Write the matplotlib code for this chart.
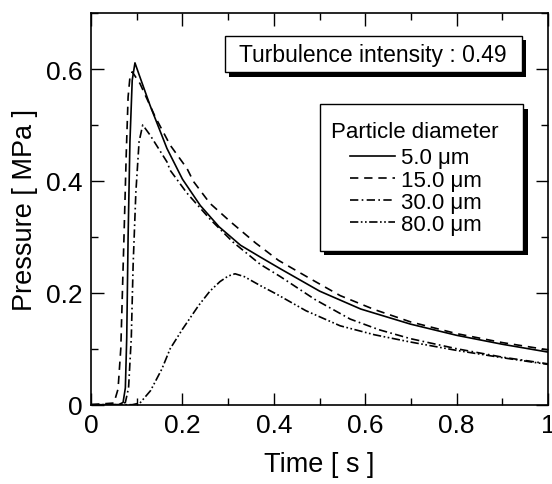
import matplotlib.pyplot as plt
from matplotlib.patches import Rectangle
from matplotlib.ticker import MultipleLocator

plt.rcParams['font.family'] = ['Liberation Sans', 'DejaVu Sans']

# 5.0 um
t_5 = [0, 0.06, 0.07, 0.075, 0.078, 0.081, 0.085, 0.09, 0.096, 0.105, 0.129, 0.166, 0.2,
       0.239, 0.28, 0.327, 0.37, 0.414, 0.5, 0.59, 0.699, 0.8, 0.9, 1.0]
p_5 = [0, 0, 0.004, 0.03, 0.12, 0.3, 0.47, 0.58, 0.611, 0.59, 0.535, 0.458, 0.403,
       0.356, 0.318, 0.285, 0.264, 0.243, 0.203, 0.171, 0.144, 0.124, 0.108, 0.094]

# 15.0 um
t_15 = [0, 0.05, 0.059, 0.065, 0.072, 0.077, 0.081, 0.085, 0.09, 0.107, 0.14, 0.173, 0.21,
        0.224, 0.26, 0.305, 0.36, 0.41, 0.48, 0.545, 0.62, 0.699, 0.8, 0.9, 1.0]
p_15 = [0, 0.003, 0.028, 0.1, 0.3, 0.45, 0.55, 0.585, 0.595, 0.574, 0.515, 0.464, 0.422,
        0.399, 0.36, 0.327, 0.289, 0.258, 0.225, 0.195, 0.17, 0.148, 0.127, 0.111, 0.098]

# 30.0 um
t_30 = [0, 0.065, 0.075, 0.082, 0.088, 0.092, 0.098, 0.105, 0.113, 0.129, 0.166, 0.173,
        0.21, 0.261, 0.31, 0.37, 0.414, 0.49, 0.567, 0.63, 0.699, 0.8, 0.9, 1.0]
p_30 = [0, 0, 0.004, 0.03, 0.12, 0.25, 0.38, 0.47, 0.50, 0.482, 0.434, 0.419,
        0.378, 0.331, 0.291, 0.251, 0.229, 0.188, 0.153, 0.134, 0.118, 0.1, 0.085, 0.073]

# 80.0 um
t_80 = [0, 0.09, 0.107, 0.13, 0.155, 0.173, 0.2, 0.235, 0.26, 0.282, 0.3, 0.315, 0.335,
        0.37, 0.405, 0.47, 0.545, 0.62, 0.699, 0.8, 0.9, 1.0]
p_80 = [0, 0, 0.003, 0.025, 0.064, 0.1, 0.135, 0.177, 0.203, 0.22, 0.23, 0.234, 0.229,
        0.213, 0.198, 0.168, 0.141, 0.125, 0.112, 0.097, 0.084, 0.072]

labels = ['5.0 μm', '15.0 μm', '30.0 μm', '80.0 μm']

fig = plt.figure(figsize=(5.52, 4.85), dpi=100)
ax = fig.add_axes([0.165, 0.1635, 0.828, 0.8075])

lw = 1.2
ax.plot(t_5, p_5, color='black', lw=lw, ls='-', label=labels[0])
ax.plot(t_15, p_15, color='black', lw=lw, ls=(0, (5, 3.5)), label=labels[1])
ax.plot(t_30, p_30, color='black', lw=lw, ls=(0, (5, 2, 1, 2)), label=labels[2])
ax.plot(t_80, p_80, color='black', lw=lw, ls=(0, (5, 1.5, 1, 1.5, 1, 1.5)), label=labels[3])

ax.set_xlim(0, 1)
ax.set_ylim(0, 0.7)
ax.xaxis.set_minor_locator(MultipleLocator(0.1))
ax.yaxis.set_minor_locator(MultipleLocator(0.1))
ax.set_xticks([0, 0.2, 0.4, 0.6, 0.8, 1.0])
ax.set_xticklabels(['0', '0.2', '0.4', '0.6', '0.8', '1'])
ax.set_yticks([0, 0.2, 0.4, 0.6])
ax.set_yticklabels(['0', '0.2', '0.4', '0.6'])
ax.tick_params(which='both', direction='in', top=True, right=True, labelsize=19, width=1)
ax.tick_params(which='major', length=9, pad=6)
ax.tick_params(which='minor', length=5)
for s in ax.spines.values():
    s.set_linewidth(1.2)

ax.set_xlabel('Time [ s ]', fontsize=19.5, labelpad=10)
ax.set_ylabel('Pressure [ MPa ]', fontsize=19.5, labelpad=6)

# boxes with black drop shadow (axes coords)
def box(x0, y0, x1, y1):
    dx, dy = 0.009, 0.012
    ax.add_patch(Rectangle((x0 + dx, y0 - dy), x1 - x0, y1 - y0, transform=ax.transAxes,
                           facecolor='black', edgecolor='black', lw=0, zorder=4))
    ax.add_patch(Rectangle((x0, y0), x1 - x0, y1 - y0, transform=ax.transAxes,
                           facecolor='white', edgecolor='black', lw=1, zorder=5))

box(0.293, 0.849, 0.943, 0.942)
ax.text(0.617, 0.895, 'Turbulence intensity : 0.49', transform=ax.transAxes,
        ha='center', va='center', fontsize=16.5, zorder=6)

box(0.501, 0.393, 0.946, 0.768)
ax.text(0.526, 0.697, 'Particle diameter', transform=ax.transAxes,
        ha='left', va='center', fontsize=16, zorder=6)
leg = ax.legend(loc='upper left', bbox_to_anchor=(0.567, 0.657), frameon=False,
                fontsize=16, handlelength=2.0, handletextpad=0.3, labelspacing=0.05,
                borderpad=0, borderaxespad=0)
leg.set_zorder(6)

fig.savefig('out.png', dpi=100)
